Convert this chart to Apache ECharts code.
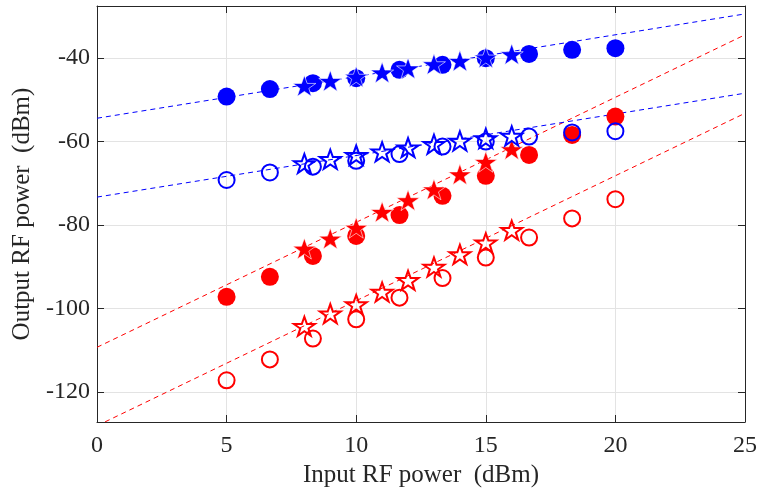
<!DOCTYPE html>
<html>
<head>
<meta charset="utf-8">
<script src="https://cdn.jsdelivr.net/npm/echarts@6/dist/echarts.min.js"></script>
<style>html,body{margin:0;padding:0;background:#fff}#c{width:760px;height:498px}</style>
</head>
<body>
<div id="c"></div>
<script>
// ---- data ----
const circleX = [5, 6.67, 8.33, 10, 11.67, 13.33, 15, 16.67, 18.33, 20];
const starX = [8, 9, 10, 11, 12, 13, 14, 15, 16];

const blueFilledCircle = [-49.2, -47.4, -46.0, -44.8, -42.8, -41.6, -40.0, -39.0, -38.0, -37.6];
const blueFilledStar = [-46.4, -45.2, -44.2, -43.2, -42.2, -41.2, -40.4, -39.6, -38.8];
const blueOpenCircle = [-69.2, -67.4, -66.0, -64.6, -63.0, -61.2, -60.0, -58.8, -57.8, -57.5];
const blueOpenStar = [-65.0, -64.0, -63.0, -62.2, -61.2, -60.4, -59.6, -59.0, -58.4];

const redFilledCircle = [-97.2, -92.4, -87.4, -82.6, -77.6, -73.0, -68.2, -63.2, -58.4, -54.0];
const redFilledStar = [-85.4, -83.0, -80.4, -76.6, -73.8, -71.2, -67.6, -64.6, -61.6];
const redOpenCircle = [-117.2, -112.2, -107.2, -102.6, -97.4, -92.7, -87.8, -83.0, -78.4, -73.8];
const redOpenStar = [-104.0, -101.0, -98.8, -95.8, -93.0, -89.8, -86.8, -84.0, -81.0];

// dashed fit lines: endpoints [x, y]
const fitBlueFilled = [[0, -54.4], [25, -29.4]];
const fitBlueOpen = [[0, -73.3], [25, -48.4]];
const fitRedFilled = [[0, -109.3], [25, -34.4]];
const fitRedOpen = [[0, -128.1], [25, -53.2]];

const xTicks = [0, 5, 10, 15, 20, 25];
const yTicks = [-120, -100, -80, -60, -40];

// ---- chart ----
const BLUE = '#0000ff', RED = '#ff0000';
const STAR = 'path://M50,0 L61.8,35.1 L98.1,35.1 L68.8,56.8 L79.4,91.4 L50,70 L20.6,91.4 L31.2,56.8 L1.9,35.1 L38.2,35.1 Z';
const FONT = 'Liberation Serif';

function pts(xs, ys) { return xs.map((x, i) => [x, ys[i]]); }

function scatter(xs, ys, color, kind, filled) {
  const isStar = kind === 'star';
  let size;
  if (isStar) size = filled ? [23, 22] : [21, 20];
  else size = filled ? 18 : 16;
  return {
    type: 'scatter',
    data: pts(xs, ys),
    symbol: isStar ? STAR : 'circle',
    symbolSize: size,
    symbolKeepAspect: true,
    symbolOffset: isStar ? [0, 1] : [0, 0],
    itemStyle: filled
      ? { color: color, borderColor: isStar ? '#fff' : color, borderWidth: isStar ? 0.6 : 0, opacity: 1 }
      : { color: 'rgba(0,0,0,0)', borderColor: color, borderWidth: 2, opacity: 1 },
    emphasis: { disabled: true },
    silent: true,
    z: isStar ? 4 : 3
  };
}

function fitLine(data, color) {
  return {
    type: 'line',
    data: data,
    symbol: 'none',
    clip: true,
    lineStyle: { color: color, width: 1, type: [5, 4] },
    silent: true,
    z: 2
  };
}

const chart = echarts.init(document.getElementById('c'), null, { renderer: 'canvas' });
const axisLineStyle = { color: '#262626', width: 1 };
chart.setOption({
  animation: false,
  backgroundColor: '#fff',
  grid: { left: 97, right: 13, top: 6, bottom: 76, containLabel: false },
  xAxis: [{
    type: 'value', min: xTicks[0], max: xTicks[xTicks.length - 1], interval: 5,
    name: 'Input RF power  (dBm)', nameLocation: 'middle', nameGap: 41,
    nameTextStyle: { fontFamily: FONT, fontSize: 25, color: '#262626' },
    axisLine: { show: true, onZero: false, lineStyle: axisLineStyle },
    axisTick: { show: true, inside: true, length: 7, lineStyle: axisLineStyle },
    axisLabel: { fontFamily: FONT, fontSize: 24, color: '#262626', margin: 12 },
    splitLine: { show: true, lineStyle: { color: '#e3e3e3', width: 1 } }
  }, {
    type: 'value', position: 'top', min: xTicks[0], max: xTicks[xTicks.length - 1], interval: 5,
    axisLine: { show: true, onZero: false, lineStyle: axisLineStyle },
    axisTick: { show: true, inside: true, length: 7, lineStyle: axisLineStyle },
    axisLabel: { show: false }, splitLine: { show: false }
  }],
  yAxis: [{
    type: 'value', min: -127.2, max: -27.5,
    interval: 20,
    name: 'Output RF power  (dBm)', nameLocation: 'middle', nameGap: 61,
    nameTextStyle: { fontFamily: FONT, fontSize: 25, color: '#262626' },
    axisLine: { show: true, onZero: false, lineStyle: axisLineStyle },
    axisTick: { show: true, inside: true, length: 7, lineStyle: axisLineStyle,
      customValues: yTicks },
    axisLabel: { fontFamily: FONT, fontSize: 24, color: '#262626', margin: 7,
      customValues: yTicks },
    splitLine: { show: true, lineStyle: { color: '#e3e3e3', width: 1 } }
  }, {
    type: 'value', position: 'right', min: -127.2, max: -27.5,
    axisLine: { show: true, onZero: false, lineStyle: axisLineStyle },
    axisTick: { show: true, inside: true, length: 7, lineStyle: axisLineStyle, customValues: yTicks },
    axisLabel: { show: false }, splitLine: { show: false }
  }],
  series: [
    fitLine(fitRedFilled, RED),
    fitLine(fitRedOpen, RED),
    fitLine(fitBlueFilled, BLUE),
    fitLine(fitBlueOpen, BLUE),
    scatter(circleX, redFilledCircle, RED, 'circle', true),
    scatter(circleX, redOpenCircle, RED, 'circle', false),
    scatter(starX, redFilledStar, RED, 'star', true),
    scatter(starX, redOpenStar, RED, 'star', false),
    scatter(circleX, blueFilledCircle, BLUE, 'circle', true),
    scatter(circleX, blueOpenCircle, BLUE, 'circle', false),
    scatter(starX, blueFilledStar, BLUE, 'star', true),
    scatter(starX, blueOpenStar, BLUE, 'star', false)
  ]
});
</script>
</body>
</html>
